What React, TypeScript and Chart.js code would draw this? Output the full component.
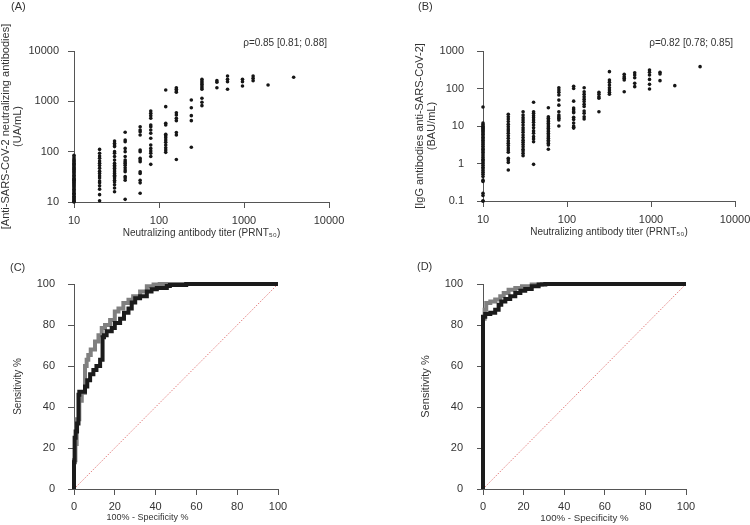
import React, { useEffect, useRef } from "react";
import { Chart, registerables } from "chart.js";

Chart.register(...registerables);

const FONT = '"Liberation Sans", Arial, sans-serif';
const TEXT = "#333333";
const AXIS = "#555555";

// ---------- data ----------
const titerLevels = [10, 20, 30, 40, 60, 80, 120, 160, 240, 320, 480, 640, 960, 1280, 1920, 3840];
const logTicksX = [10, 100, 1000, 10000];
const logTicksA = [10, 100, 1000, 10000];
const logTicksB = [0.1, 1, 10, 100, 1000];
const rocTicks = [0, 20, 40, 60, 80, 100];

// Panel A: anti-SARS-CoV-2 neutralizing antibodies (UA/mL), one list per titer level
const neutralizingUA: number[][] = [
  [85, 78, 72, 68, 65, 62, 59, 56, 53, 50, 48, 46, 44, 42, 40, 38, 36, 34, 32, 30, 29, 28, 27, 26, 25, 24, 23, 22, 21, 20, 19, 18, 17, 16, 15, 14.5, 14, 13, 12.5, 12, 11.5, 11, 10.5, 10.2, 10],
  [111, 93, 82, 74, 65, 59, 53, 47, 41, 37, 33, 30, 26, 24, 21, 18, 14, 10.6],
  [163, 147, 136, 126, 100, 93, 80, 68, 59, 54, 50, 47, 43, 40, 37, 34, 32, 30, 27, 25, 22, 19, 16],
  [243, 171, 158, 116, 100, 80, 68, 63, 59, 54, 48, 43, 40, 32, 30, 27, 11.3],
  [313, 269, 249, 214, 108, 100, 74, 68, 63, 40, 37, 27, 24, 14.9],
  [642, 578, 519, 460, 339, 313, 269, 232, 185, 136, 116, 103, 93, 80, 56],
  [1680, 784, 366, 339, 221, 208, 190, 171, 153, 136, 120, 108, 97],
  [1866, 1733, 1604, 1510, 595, 535, 460, 413, 239, 214, 70],
  [1064, 748, 519, 413, 122],
  [2742, 2536, 2348, 2177, 2016, 1866, 1733, 1148, 957, 820],
  [2576, 2388, 1866],
  [3184, 2742, 2460, 1733],
  [2742, 2460, 2016],
  [3184, 2866, 2576],
  [2113],
  [3000],
];

// Panel B: IgG antibodies anti-SARS-CoV-2 (BAU/mL), one list per titer level
const iggBAU: number[][] = [
  [32, 12, 11, 10, 9.5, 9, 8.5, 8, 7.5, 7, 6.5, 6, 5.5, 5, 4.6, 4.2, 3.8, 3.5, 3.2, 2.9, 2.6, 2.4, 2.2, 2.0, 1.8, 1.6, 1.45, 1.3, 1.2, 1.1, 1.0, 0.9, 0.8, 0.72, 0.65, 0.58, 0.52, 0.45, 0.36, 0.33, 0.16, 0.14, 0.1, 0.1],
  [20.5, 17.7, 15.4, 13.1, 11.1, 9.6, 8.3, 7.4, 6.4, 5.5, 4.7, 4.0, 3.45, 3.0, 2.6, 2.3, 1.99, 1.37, 1.24, 1.07, 0.67],
  [24, 19.6, 16.7, 14.5, 12.5, 10.6, 9.0, 7.8, 6.8, 5.75, 4.9, 4.2, 3.7, 3.2, 2.8, 2.4, 2.15, 1.87, 1.62],
  [42.8, 24, 21.8, 18.9, 16.7, 14.5, 12.5, 10.6, 9.0, 7.4, 6.4, 5.2, 4.5, 3.8, 0.95],
  [30.8, 17.7, 16.0, 14.5, 13.1, 11.8, 10.6, 9.6, 8.7, 7.8, 7.1, 6.4, 5.75, 5.2, 4.7, 4.2, 3.8, 3.45, 3.1, 2.4],
  [105, 91, 79, 67, 49, 36, 24, 19.6, 17.7, 16.0, 14.5, 10],
  [115, 100, 46, 30, 27, 24, 22.6, 17, 15, 12, 10, 9.2, 8.8],
  [105, 82, 70, 60, 52, 45, 38, 33, 25, 21.8, 17.7, 15.4],
  [79, 70, 60, 55, 24],
  [281, 169, 146, 124, 105, 91, 79, 70],
  [239, 207, 187, 169, 82],
  [264, 229, 194, 137, 112],
  [311, 270, 229, 175, 129, 97],
  [270, 244, 162],
  [119],
  [382],
];

// Panel C ROC curves (100% - specificity, sensitivity)
const rocCBlackX = [0, 0.3, 0.8, 1.5, 2.2, 2.6, 5.4, 6.5, 7.9, 9.5, 11, 12.8, 14, 14.7, 16, 18.5, 20, 22.6, 24.5, 26.7, 28.3, 30, 32.4, 35.7, 38, 40.6, 45.5, 47, 55, 70, 100];
const rocCBlackY = [0, 13, 25, 28, 32, 46, 47.5, 50, 53, 56, 58, 60, 63, 74, 75, 77, 78.5, 81, 83, 86, 88, 91, 93, 94, 96.4, 97.5, 98, 99, 99.5, 100, 100];
const rocCGrayX = [0, 0.7, 1.3, 2.6, 3.8, 5.4, 6.2, 7, 8.2, 10.3, 12, 13.6, 15.2, 17.7, 20, 21.8, 24.2, 26.7, 29, 32.4, 35.7, 39, 42, 47, 100];
const rocCGrayY = [0, 14, 22, 34, 43, 47, 60, 63, 65.4, 68, 72, 75, 78.5, 80, 82.5, 86.6, 88, 90.7, 92.3, 94, 96.4, 98.9, 99.7, 100, 100];

// Panel D ROC curves
const rocDBlackX = [0, 0, 1.1, 3.6, 6, 7.7, 9, 11, 13.4, 15.9, 18.4, 20.8, 24, 27.4, 30.7, 34, 100];
const rocDBlackY = [0, 81.8, 84, 85.4, 86, 87.5, 89.9, 91.5, 92.7, 94, 95.6, 96.7, 97.6, 98.9, 99.7, 100, 100];
const rocDGrayX = [0, 0, 0.8, 1.6, 3.6, 6, 8.5, 10.2, 12.6, 15.9, 19.2, 24, 29, 32.3, 100];
const rocDGrayY = [0, 79, 83, 87.5, 90.7, 91.5, 92.4, 94, 95.6, 97.2, 98, 98.9, 99.7, 100, 100];

const diagonal = [0, 100];

// ---------- helpers ----------
function pairs(xs: number[], ys: number[]) {
  return xs.map((x, i) => ({ x, y: ys[i] }));
}

function scatterPoints(cols: number[][]) {
  const pts: { x: number; y: number }[] = [];
  cols.forEach((vals, i) => vals.forEach((v) => pts.push({ x: titerLevels[i], y: v })));
  return pts;
}

function axisBase(tickPad: number, tickSize: number) {
  return {
    grid: { display: true, drawOnChartArea: false, drawTicks: true, tickLength: 6, color: AXIS, lineWidth: 1 },
    border: { display: true, color: AXIS, width: 1 },
    ticks: {
      color: TEXT,
      font: { family: FONT, size: tickSize },
      padding: tickPad,
      autoSkip: false,
      maxRotation: 0,
      callback: (v: any) => String(v),
    },
  };
}

function textPlugin(text: string) {
  return {
    id: "rhoText",
    afterDraw(chart: any) {
      const { ctx, chartArea } = chart;
      ctx.save();
      ctx.font = `10px ${FONT}`;
      ctx.fillStyle = TEXT;
      ctx.textAlign = "right";
      ctx.textBaseline = "middle";
      ctx.fillText(text, chartArea.right - 2, chartArea.top - 8);
      ctx.restore();
    },
  };
}

// x-axis title for ROC panels, centred at a fraction of the plot width
function xTitlePlugin(text: string, centerFrac: number, size: number) {
  return {
    id: "xTitleText",
    afterDraw(chart: any) {
      const { ctx, chartArea } = chart;
      ctx.save();
      ctx.font = `${size}px ${FONT}`;
      ctx.fillStyle = TEXT;
      ctx.textAlign = "center";
      ctx.textBaseline = "middle";
      ctx.fillText(text, chartArea.left + (chartArea.right - chartArea.left) * centerFrac, chartArea.bottom + 29);
      ctx.restore();
    },
  };
}

type Box = { padL: number; padT: number; padR: number; padB: number; yW: number; xH: number };

function scatterConfig(cols: number[][], yTicks: number[], yTitle: string[], rho: string, box: Box, yPad: number): any {
  const xb = axisBase(6, 11);
  const yb = axisBase(yPad, 11);
  return {
    type: "scatter",
    data: {
      datasets: [
        {
          data: scatterPoints(cols),
          pointRadius: 1.8,
          pointBackgroundColor: "#161616",
          pointBorderWidth: 0,
          clip: false,
        },
      ],
    },
    options: {
      animation: false,
      responsive: false,
      devicePixelRatio: 1,
      layout: { padding: { left: box.padL, top: box.padT, right: box.padR, bottom: box.padB } },
      plugins: { legend: { display: false }, tooltip: { enabled: false } },
      scales: {
        x: {
          type: "logarithmic",
          min: logTicksX[0],
          max: logTicksX[logTicksX.length - 1],
          ...xb,
          afterBuildTicks: (s: any) => {
            s.ticks = logTicksX.map((value) => ({ value }));
          },
          afterFit: (s: any) => {
            s.height = box.xH;
          },
          title: {
            display: true,
            text: "Neutralizing antibody titer (PRNT\u2085\u2080)",
            color: TEXT,
            font: { family: FONT, size: 10, lineHeight: 1.2 },
            padding: 0,
          },
        },
        y: {
          type: "logarithmic",
          min: yTicks[0],
          max: yTicks[yTicks.length - 1],
          ...yb,
          afterBuildTicks: (s: any) => {
            s.ticks = yTicks.map((value) => ({ value }));
          },
          afterFit: (s: any) => {
            s.width = box.yW;
          },
          title: {
            display: true,
            text: yTitle,
            color: TEXT,
            font: { family: FONT, size: 11, lineHeight: 1.1 },
            padding: 0,
          },
        },
      },
    },
    plugins: [textPlugin(rho)],
  };
}

function rocConfig(
  blackX: number[],
  blackY: number[],
  grayX: number[],
  grayY: number[],
  box: Box,
  yPad: number,
  xTitleFrac: number,
  xTitleSize: number,
  yTitleSize: number
): any {
  const xb = axisBase(5, 11);
  const yb = axisBase(yPad, 11);
  const line = (data: any, color: string) => ({
    data,
    showLine: true,
    borderColor: color,
    backgroundColor: color,
    borderWidth: 4,
    pointRadius: 0,
    stepped: "after",
    borderJoinStyle: "miter",
    borderCapStyle: "butt",
    clip: 5,
  });
  return {
    type: "scatter",
    data: {
      datasets: [
        line(pairs(blackX, blackY), "#1b1b1b"),
        line(pairs(grayX, grayY), "#808080"),
        {
          data: pairs(diagonal, diagonal),
          showLine: true,
          borderColor: "#e07070",
          borderWidth: 0.9,
          borderDash: [1.5, 1.5],
          pointRadius: 0,
        },
      ],
    },
    options: {
      animation: false,
      responsive: false,
      devicePixelRatio: 1,
      layout: { padding: { left: box.padL, top: box.padT, right: box.padR, bottom: box.padB } },
      plugins: { legend: { display: false }, tooltip: { enabled: false } },
      scales: {
        x: {
          type: "linear",
          min: rocTicks[0],
          max: rocTicks[rocTicks.length - 1],
          ...xb,
          afterBuildTicks: (s: any) => {
            s.ticks = rocTicks.map((value) => ({ value }));
          },
          afterFit: (s: any) => {
            s.height = box.xH;
          },
          title: { display: false },
        },
        y: {
          type: "linear",
          min: rocTicks[0],
          max: rocTicks[rocTicks.length - 1],
          ...yb,
          afterBuildTicks: (s: any) => {
            s.ticks = rocTicks.map((value) => ({ value }));
          },
          afterFit: (s: any) => {
            s.width = box.yW;
          },
          title: {
            display: true,
            text: "Sensitivity %",
            color: TEXT,
            font: { family: FONT, size: yTitleSize, lineHeight: 1.2 },
            padding: 0,
          },
        },
      },
    },
    plugins: [xTitlePlugin("100% - Specificity %", xTitleFrac, xTitleSize)],
  };
}

function ChartCanvas(props: { left: number; top: number; width: number; height: number; build: () => any }) {
  const ref = useRef<HTMLCanvasElement>(null);
  useEffect(() => {
    const chart = new Chart(ref.current as HTMLCanvasElement, props.build());
    return () => chart.destroy();
  }, []);
  return (
    <canvas
      ref={ref}
      width={props.width}
      height={props.height}
      style={{ position: "absolute", left: props.left, top: props.top, width: props.width, height: props.height }}
    />
  );
}

const labelStyle = (left: number, top: number): React.CSSProperties => ({
  position: "absolute",
  left,
  top,
  font: `11px ${FONT}`,
  color: TEXT,
  lineHeight: "13px",
});

export default function App() {
  return (
    <div style={{ position: "absolute", left: 0, top: 0, width: 750, height: 525, overflow: "hidden", background: "#fff" }}>
      <ChartCanvas
        left={0}
        top={0}
        width={375}
        height={260}
        build={() =>
          scatterConfig(
            neutralizingUA,
            logTicksA,
            ["[Anti-SARS-CoV-2 neutralizing antibodies]", "(UA/mL)"],
            "\u03c1=0.85 [0.81; 0.88]",
            { padL: 0, padT: 51, padR: 46, padB: 21, yW: 74, xH: 37 },
            9
          )
        }
      />
      <ChartCanvas
        left={375}
        top={0}
        width={400}
        height={260}
        build={() =>
          scatterConfig(
            iggBAU,
            logTicksB,
            ["[IgG antibodies anti-SARS-CoV-2]", "(BAU/mL)"],
            "\u03c1=0.82 [0.78; 0.85]",
            { padL: 39, padT: 51, padR: 40, padB: 22, yW: 69, xH: 37 },
            13
          )
        }
      />
      <ChartCanvas
        left={0}
        top={260}
        width={375}
        height={265}
        build={() =>
          rocConfig(
            rocCBlackX,
            rocCBlackY,
            rocCGrayX,
            rocCGrayY,
            { padL: 12, padT: 24, padR: 97, padB: 1, yW: 62, xH: 35 },
            13,
            0.36,
            9,
            10
          )
        }
      />
      <ChartCanvas
        left={375}
        top={260}
        width={375}
        height={265}
        build={() =>
          rocConfig(
            rocDBlackX,
            rocDBlackY,
            rocDGrayX,
            rocDGrayY,
            { padL: 44, padT: 24, padR: 64, padB: 1, yW: 64, xH: 35 },
            14,
            0.5,
            9.7,
            11
          )
        }
      />
      <div style={labelStyle(11, 0)}>(A)</div>
      <div style={labelStyle(418, 0)}>(B)</div>
      <div style={labelStyle(10, 261)}>(C)</div>
      <div style={labelStyle(417, 260)}>(D)</div>
    </div>
  );
}
